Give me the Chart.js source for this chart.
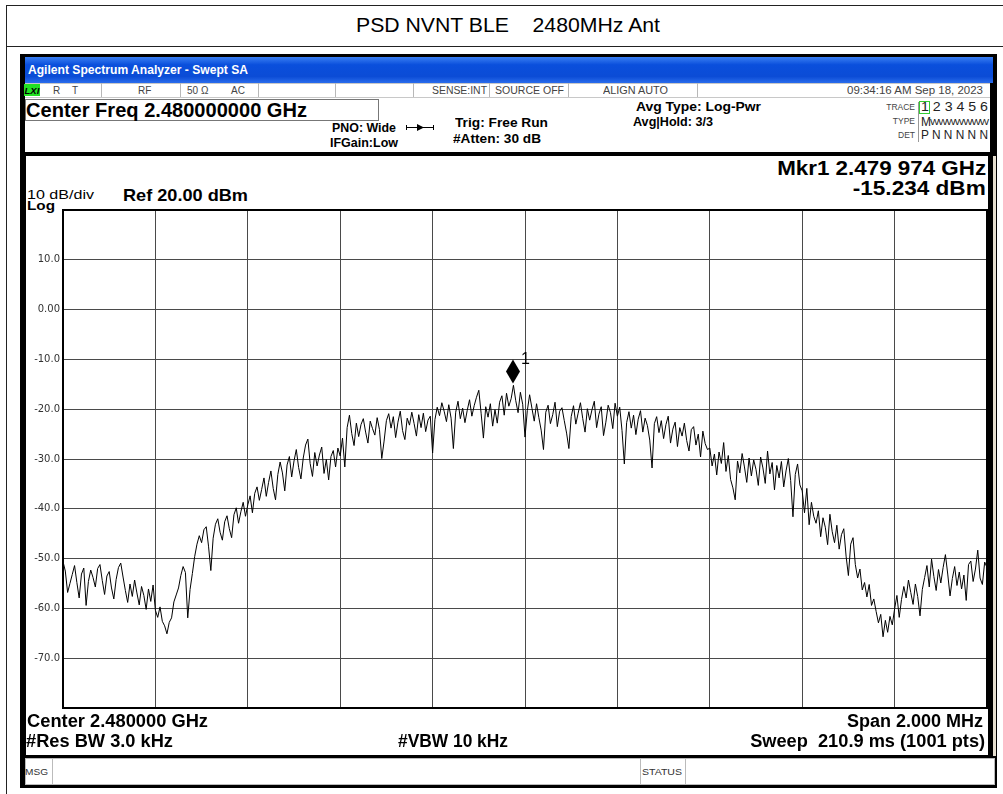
<!DOCTYPE html>
<html>
<head>
<meta charset="utf-8">
<script src="https://cdn.jsdelivr.net/npm/chart.js@4.4.1/dist/chart.umd.min.js"></script>
<style>
  html, body { margin: 0; padding: 0; background: #fff; }
  body { width: 1003px; height: 794px; position: relative; overflow: hidden; font-family: "Liberation Sans", Arial, sans-serif; color: #000; }
  .box { position: absolute; box-sizing: border-box; }
  .t { position: absolute; white-space: pre; line-height: 1; transform-origin: left center; }
  .t.r { transform-origin: right center; }
  .b { font-weight: bold; }
  .st { font-size: 10px; color: #444; top: 85.6px; }
  .sep { position: absolute; top: 83px; width: 1px; height: 14px; background: #b8b8b8; }
  .lbl { font-size: 8.5px; color: #444; }
  #plot { position: absolute; left: 26px; top: 156px; }
</style>
</head>
<body>

<!-- page table -->
<div class="box" style="left:6px; top:5px; width:1100px; height:900px; border:1px solid #222;"></div>
<div class="box" style="left:6px; top:46px; width:1100px; height:1px; background:#222;"></div>
<div class="t" data-w="304" style="left:356px; top:15.2px; font-size:20px;">PSD NVNT BLE    2480MHz Ant</div>

<!-- analyzer screenshot -->
<div class="box" style="left:20px; top:54px; width:977px; height:734px; background:#000;"></div>
<div class="box" style="left:25px; top:57px; width:968px; height:26px; background:linear-gradient(#3a7ff2, #0a4fdc 30%, #0b4cd6 75%, #2a6cec);"></div>
<div class="t b" data-w="220" style="left:28px; top:64.1px; font-size:12px; color:#fff;">Agilent Spectrum Analyzer - Swept SA</div>

<!-- status row -->
<div class="box" style="left:25px; top:83px; width:965px; height:15px; background:#fff; border-top:1px solid #c8c8c8; border-bottom:1px solid #c8c8c8;"></div>
<div class="box" style="left:24px; top:84px; width:16px; height:12px; background:#22e022;"></div>
<div class="t b" style="left:24.5px; top:85.6px; font-size:9.5px; font-style:italic;">LXI</div>
<div class="t st" style="left:53px;">R</div>
<div class="t st" style="left:72px;">T</div>
<div class="sep" style="left:101px;"></div>
<div class="t st" style="left:138px;">RF</div>
<div class="sep" style="left:180px;"></div>
<div class="t st" style="left:187px;">50 Ω</div>
<div class="t st" style="left:231px;">AC</div>
<div class="sep" style="left:258px;"></div>
<div class="sep" style="left:335px;"></div>
<div class="sep" style="left:413px;"></div>
<div class="t st" data-w="55" style="left:432px;">SENSE:INT</div>
<div class="sep" style="left:489px;"></div>
<div class="t st" data-w="69" style="left:495px;">SOURCE OFF</div>
<div class="sep" style="left:568px;"></div>
<div class="t st" data-w="65" style="left:603px;">ALIGN AUTO</div>
<div class="sep" style="left:697px;"></div>
<div class="t st" data-w="136" style="left:847px;">09:34:16 AM Sep 18, 2023</div>

<!-- header -->
<div class="box" style="left:25px; top:98px; width:965px; height:54px; background:#fff;"></div>
<div class="box" style="left:25px; top:99px; width:354px; height:22px; border:1px solid #777;"></div>
<div class="t b" data-w="281" style="left:26px; top:100.2px; font-size:20px;">Center Freq 2.480000000 GHz</div>
<div class="t b" data-w="64" style="left:332px; top:121.9px; font-size:12.5px;">PNO: Wide</div>
<div class="t b" data-w="68" style="left:330px; top:136.9px; font-size:12.5px;">IFGain:Low</div>
<svg style="position:absolute; left:406px; top:123px;" width="28" height="9">
  <line x1="0" y1="4.5" x2="28" y2="4.5" stroke="#000" stroke-width="1"/>
  <polygon points="11,1 18,4.5 11,8" fill="#000"/>
  <line x1="0.5" y1="2" x2="0.5" y2="7" stroke="#000"/>
  <line x1="27.5" y1="2" x2="27.5" y2="7" stroke="#000"/>
</svg>
<div class="t b" data-w="93" style="left:455px; top:116.9px; font-size:12.5px;">Trig: Free Run</div>
<div class="t b" data-w="88" style="left:453px; top:132.9px; font-size:12.5px;">#Atten: 30 dB</div>
<div class="t b" data-w="125" style="left:636px; top:100.9px; font-size:12.5px;">Avg Type: Log-Pwr</div>
<div class="t b" data-w="80" style="left:633px; top:115.9px; font-size:12.5px;">Avg|Hold: 3/3</div>

<div class="t lbl r" style="right:88px; top:102.8px;">TRACE</div>
<div class="t lbl r" style="right:88px; top:116.8px;">TYPE</div>
<div class="t lbl r" style="right:88px; top:130.8px;">DET</div>
<div class="box" style="left:918px; top:102px; width:1px; height:40px; background:#999;"></div>
<div class="box" style="left:919px; top:101px; width:11px; height:13px; border:1px solid #3c3;"></div>
<div class="t" data-w="67" style="left:921px; top:101.1px; font-size:12px; color:#222;">1 2 3 4 5 6</div>
<div class="t" style="left:921px; top:116.1px; font-size:12px; color:#222;">M</div>
<div class="t" data-w="58" style="left:930px; top:116.6px; font-size:9.5px; color:#222; letter-spacing:-1px;">WWWWWWW</div>
<div class="t" data-w="67" style="left:921px; top:129.1px; font-size:12px; color:#222;">P N N N N N</div>

<!-- display -->
<div class="box" style="left:26px; top:156px; width:962px; height:599px; background:#fff;"></div>
<div class="box" style="left:993px; top:156px; width:3px; height:600px; background:#e6dfd0;"></div>
<div class="t" data-w="67" style="left:27px; top:188.9px; font-size:12.5px;">10 dB/div</div>
<div class="t b" data-w="28" style="left:27px; top:198.6px; font-size:13px;">Log</div>
<div class="t b" data-w="125" style="left:123px; top:186.7px; font-size:17px;">Ref 20.00 dBm</div>
<div class="t b r" data-w="209" style="right:17px; top:156.7px; font-size:21px;">Mkr1 2.479 974 GHz</div>
<div class="t b r" data-w="133" style="right:17px; top:176.7px; font-size:21px;">-15.234 dBm</div>

<canvas id="plot" width="962" height="600"></canvas>

<div class="t b" data-w="181" style="left:27px; top:712.2px; font-size:18px;">Center 2.480000 GHz</div>
<div class="t b" data-w="147" style="left:26px; top:732.2px; font-size:18px;">#Res BW 3.0 kHz</div>
<div class="t b" data-w="110" style="left:398px; top:732.2px; font-size:18px;">#VBW 10 kHz</div>
<div class="t b r" data-w="136" style="right:20px; top:712.2px; font-size:18px;">Span 2.000 MHz</div>
<div class="t b r" data-w="235" style="right:18px; top:732.2px; font-size:18px;">Sweep  210.9 ms (1001 pts)</div>

<!-- message bar -->
<div class="box" style="left:25px; top:758px; width:970px; height:27px; background:#fff; border:1px solid #bbb;"></div>
<div class="box" style="left:52px; top:758px; width:1px; height:27px; background:#bbb;"></div>
<div class="box" style="left:640px; top:758px; width:1px; height:27px; background:#bbb;"></div>
<div class="box" style="left:685px; top:758px; width:1px; height:27px; background:#bbb;"></div>
<div class="t" data-w="23" style="left:25px; top:767.6px; font-size:9px; color:#333;">MSG</div>
<div class="t" data-w="40" style="left:642px; top:767.6px; font-size:9px; color:#333;">STATUS</div>

<script>
// sweep: 2.479 GHz .. 2.481 GHz, one reading every 5 kHz (dBm)
const startMHz = 2479.0;
const stepMHz = 0.005;
const levels = [
  -50.6, -52.5, -56.8, -55.0, -53.2, -51.4, -54.8, -57.9, -53.1, -51.9,
  -59.4, -54.6, -52.3, -53.8, -55.7, -52.0, -51.2, -54.4, -57.2, -53.5,
  -52.6, -55.9, -58.1, -54.2, -51.8, -50.9, -53.7, -56.4, -58.8, -55.1,
  -57.6, -54.3, -56.9, -59.3, -55.6, -57.4, -60.2, -56.1, -58.6, -55.3,
  -60.4, -61.8, -59.7, -62.6, -63.5, -65.1, -62.8, -61.9, -58.7, -57.3,
  -55.9, -53.4, -51.6, -52.8, -61.9, -56.2, -53.0, -49.6, -47.1, -45.4,
  -46.8, -44.2, -43.6, -47.5, -52.4, -45.9, -43.1, -42.0, -44.7, -46.3,
  -42.6, -41.4, -44.0, -45.8, -41.2, -39.8, -42.9, -40.6, -38.7, -41.5,
  -39.2, -37.4, -40.8, -36.9, -35.6, -38.3, -36.1, -33.8, -37.5, -34.7,
  -32.4, -35.9, -38.2, -33.1, -30.6, -32.8, -36.4, -31.2, -29.5, -33.6,
  -30.4, -28.1, -31.7, -34.0, -29.8, -27.2, -26.0, -30.9, -33.5, -28.7,
  -31.4, -29.2, -27.6, -32.9, -30.1, -34.2, -29.5, -28.3, -31.6, -27.8,
  -29.4, -25.8, -31.6, -23.7, -21.2, -24.9, -27.3, -22.8, -25.5, -23.1,
  -21.9, -24.6, -26.8, -22.4, -23.9, -25.2, -21.7, -24.1, -29.9, -26.4,
  -22.3, -20.9, -23.8, -21.5, -25.7, -22.6, -20.4, -24.3, -26.1, -21.8,
  -23.2, -20.6, -22.9, -25.4, -21.1, -23.7, -20.8, -24.5, -22.2, -21.4,
  -28.8, -22.1, -19.6, -21.3, -18.7, -20.4, -22.5, -19.1, -21.8, -27.9,
  -20.6, -18.4, -21.9, -19.8, -22.7, -20.2, -18.1, -21.4, -19.3, -17.6,
  -16.2, -20.8, -25.8, -19.5, -21.6, -18.9, -23.4, -20.1, -22.8, -18.6,
  -17.3, -21.2, -16.8, -19.4, -17.9, -15.2, -18.3, -20.7, -16.6, -19.0,
  -25.6, -20.3, -17.1, -19.8, -22.4, -18.9, -21.7, -24.2, -28.1, -20.6,
  -19.2, -22.9, -21.1, -18.6, -23.5, -20.4, -19.7, -22.3, -24.8, -27.9,
  -21.5, -19.3, -23.0, -20.8, -18.7, -21.9, -24.6, -19.9, -22.2, -20.1,
  -18.4, -23.7, -21.0, -19.5, -25.3, -22.6, -19.2, -20.7, -23.9, -18.8,
  -21.4, -19.6, -24.3, -31.0, -22.7, -20.5, -23.8, -21.2, -25.1, -22.0,
  -20.3, -24.6, -21.8, -23.3, -26.2, -31.8, -22.9, -21.5, -24.7, -22.3,
  -25.9, -23.1, -21.4, -26.8, -24.0, -22.6, -27.5, -23.7, -25.4, -22.8,
  -26.3, -28.4, -24.1, -23.5, -27.2, -25.0, -29.6, -24.4, -26.9, -28.1,
  -27.8, -31.4, -29.0, -33.2, -28.6, -30.9, -26.7, -32.5, -29.3, -34.1,
  -35.8, -38.2, -30.4, -32.8, -28.9, -31.6, -34.7, -29.8, -33.4, -30.2,
  -32.1, -35.3, -29.6, -31.8, -34.9, -28.4, -33.0, -30.7, -36.2, -31.3,
  -33.8, -30.5, -35.6, -32.4, -29.9, -34.3, -41.6, -33.1, -31.0, -35.2,
  -36.4, -40.8, -35.9, -43.2, -38.7, -41.5, -42.9, -40.4, -45.6, -41.8,
  -43.7, -47.2, -41.1, -44.6, -46.8, -43.3, -48.1, -45.2, -44.0, -49.5,
  -53.4, -47.1, -45.8, -51.2, -53.9, -52.1, -56.3, -54.8, -57.7, -55.2,
  -59.4, -58.1, -60.6, -62.9, -61.2, -65.7, -62.4, -64.8, -61.6, -63.3,
  -60.1, -57.4, -61.8, -58.2, -55.6, -57.9, -54.3, -56.8, -59.2, -55.1,
  -57.6, -61.5, -56.2, -53.8, -51.4, -55.7, -50.1, -53.6, -56.4, -52.2,
  -54.9, -51.8, -49.2, -53.1, -57.5, -54.0, -51.6, -55.4, -52.7, -56.1,
  -53.3, -58.4, -51.2, -50.5, -54.6, -52.1, -48.3, -53.9, -55.2, -50.7,
  -51.8
];

const yTickValues = [10, 0, -10, -20, -30, -40, -50, -60, -70];
const yTickLabels = ['10.0', '0.00', '-10.0', '-20.0', '-30.0', '-40.0', '-50.0', '-60.0', '-70.0'];

const markerFreq = 2479.974;
const markerLevel = -15.234;
const markerName = '1';

// stretch header texts so they span the same width as on the analyzer screen
document.querySelectorAll('[data-w]').forEach(el => {
    const natural = el.getBoundingClientRect().width;
    const target = parseFloat(el.dataset.w);
    if (natural > 0) el.style.transform = 'scaleX(' + (target / natural) + ')';
});

const framePlugin = {
    id: 'saFrame',
    beforeDatasetsDraw(chart) {
        const { ctx, chartArea: a } = chart;
        ctx.save();
        ctx.strokeStyle = '#000';
        ctx.lineWidth = 2;
        ctx.strokeRect(a.left, a.top, a.right - a.left, a.bottom - a.top);
        ctx.restore();
    },
    afterDatasetsDraw(chart) {
        const { ctx } = chart;
        const x = chart.scales.x.getPixelForValue(markerFreq);
        const y = chart.scales.y.getPixelForValue(markerLevel);
        ctx.save();
        ctx.fillStyle = '#000';
        ctx.beginPath();
        ctx.moveTo(x, y - 26);
        ctx.lineTo(x + 7, y - 14);
        ctx.lineTo(x, y - 2);
        ctx.lineTo(x - 7, y - 14);
        ctx.closePath();
        ctx.fill();
        ctx.font = '16px "Liberation Sans", Arial';
        ctx.textBaseline = 'middle';
        ctx.fillText(markerName, x + 8, y - 26);
        ctx.restore();
    }
};

Chart.defaults.font.family = '"Liberation Sans", Arial, sans-serif';

new Chart(document.getElementById('plot').getContext('2d'), {
    type: 'line',
    data: {
        datasets: [{
            data: levels.map((v, i) => ({ x: startMHz + i * stepMHz, y: v })),
            borderColor: '#000',
            borderWidth: 1,
            pointRadius: 0,
            tension: 0,
            fill: false,
        }]
    },
    options: {
        responsive: false,
        animation: false,
        devicePixelRatio: 1,
        layout: { padding: { top: 54, right: 1, bottom: 48, left: 0 } },
        plugins: {
            legend: { display: false },
            tooltip: { enabled: false }
        },
        scales: {
            x: {
                type: 'linear',
                min: 2479,
                max: 2481,
                afterFit: s => { s.height = 0; },
                ticks: { display: false, stepSize: 0.2 },
                grid: { color: '#4a4a4a', lineWidth: 1, drawTicks: false },
                border: { display: false }
            },
            y: {
                min: -80,
                max: 20,
                afterFit: s => { s.width = 37; },
                ticks: {
                    stepSize: 10,
                    padding: 3,
                    color: '#333',
                    font: { family: '"DejaVu Sans", Arial, sans-serif', size: 10 },
                    callback: v => {
                        const i = yTickValues.indexOf(v);
                        return i < 0 ? '' : yTickLabels[i];
                    }
                },
                grid: { color: '#4a4a4a', lineWidth: 1, drawTicks: false },
                border: { display: false }
            }
        }
    },
    plugins: [framePlugin]
});
</script>
</body>
</html>
